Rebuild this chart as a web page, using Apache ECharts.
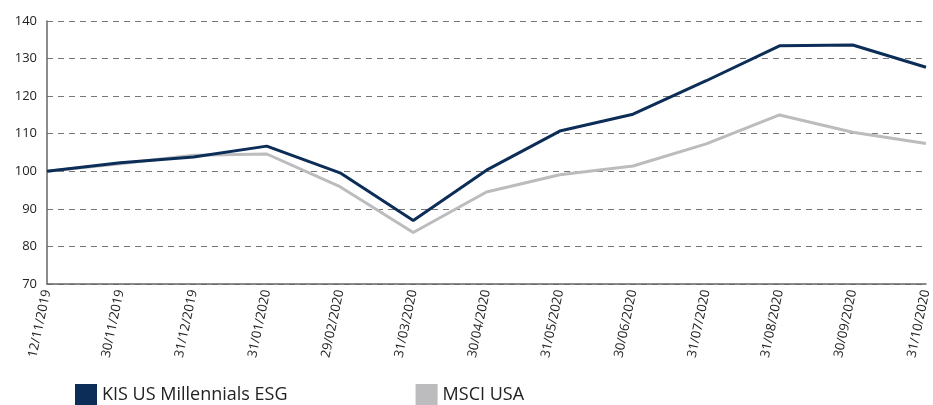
<!DOCTYPE html>
<html>
<head>
<meta charset="utf-8">
<script src="https://cdn.jsdelivr.net/npm/echarts@6/dist/echarts.min.js"></script>
<style>
  html, body { margin: 0; padding: 0; background: #fff; }
  #chart { width: 933px; height: 405px; }
</style>
</head>
<body>
<div id="chart"></div>
<script>
// performance index, both rebased to 100
const dates = [
  "12/11/2019", "30/11/2019", "31/12/2019", "31/01/2020", "29/02/2020",
  "31/03/2020", "30/04/2020", "31/05/2020", "30/06/2020", "31/07/2020",
  "31/08/2020", "30/09/2020", "31/10/2020"
];
const kisValues = [100, 102.3, 103.8, 106.7, 99.6, 86.9, 100.3, 110.7, 115.2, 124.1, 133.4, 133.6, 127.7];
const msciValues = [100, 102.0, 104.3, 104.6, 95.9, 83.7, 94.5, 99.1, 101.4, 107.3, 115.0, 110.4, 107.4];
const yTicks = [70, 80, 90, 100, 110, 120, 130, 140];

const fontFamily = "'Open Sans', 'Noto Sans', sans-serif";

const chart = echarts.init(document.getElementById("chart"));

const option = {
  animation: false,
  grid: { left: 47, right: 7, top: 21, bottom: 121, containLabel: false },
  legend: {
    left: 70,
    top: 379,
    icon: "rect",
    itemWidth: 22,
    itemHeight: 22,
    itemGap: 128,
    itemTextGap: 7,
    textStyle: { fontFamily: fontFamily, fontSize: 18, color: "#222" },
    data: ["KIS US Millennials ESG", "MSCI USA"]
  },
  xAxis: {
    type: "category",
    boundaryGap: false,
    data: dates,
    axisLine: { lineStyle: { color: "#666", width: 1.5 } },
    axisTick: { show: false },
    axisLabel: {
      rotate: 78,
      margin: 6,
      fontFamily: fontFamily,
      fontSize: 13,
      color: "#222",
      interval: 0
    },
    splitLine: { show: false }
  },
  yAxis: {
    type: "value",
    min: yTicks[0],
    max: yTicks[yTicks.length - 1],
    interval: 10,
    axisLine: { show: true, lineStyle: { color: "#666", width: 1.5 } },
    axisTick: { show: false },
    axisLabel: { fontFamily: fontFamily, fontSize: 13, color: "#222", margin: 10 },
    splitLine: { lineStyle: { color: "#777", type: [6, 5], width: 1 } }
  },
  series: [
    {
      name: "MSCI USA",
      type: "line",
      data: msciValues,
      showSymbol: false,
      lineStyle: { color: "#bcbcbf", width: 3 },
      itemStyle: { color: "#bcbcbf" }
    },
    {
      name: "KIS US Millennials ESG",
      type: "line",
      data: kisValues,
      showSymbol: false,
      lineStyle: { color: "#0b2d57", width: 3 },
      itemStyle: { color: "#0b2d57" }
    }
  ]
};

chart.setOption(option);
</script>
</body>
</html>
